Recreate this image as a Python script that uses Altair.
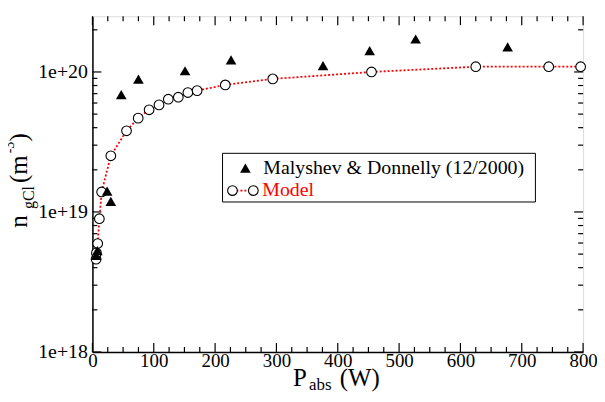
import altair as alt
import pandas as pd

# ---------------- data ----------------
exp_power = [6, 8, 24, 30, 47, 75, 151, 226, 376, 452, 527, 677]
exp_density = [4.9e18, 5.3e18, 1.41e19, 1.19e19, 6.9e19, 8.9e19,
               1.02e20, 1.22e20, 1.11e20, 1.42e20, 1.72e20, 1.51e20]

model_power = [6, 6.5, 8.6, 11.3, 15, 30, 55.6, 74.6, 92.4, 108.6, 123.7,
               140, 155.6, 170.7, 216.6, 294, 455, 625, 744, 796]
model_density = [4.6e18, 5.1e18, 5.95e18, 8.95e18, 1.39e19, 2.52e19, 3.8e19,
                 4.68e19, 5.37e19, 5.82e19, 6.39e19, 6.6e19, 7.13e19, 7.36e19,
                 8.08e19, 8.92e19, 1.0e20, 1.09e20, 1.09e20, 1.09e20]

x_major = [0, 100, 200, 300, 400, 500, 600, 700, 800]
x_minor = [v for v in range(25, 800, 25) if v % 100 != 0]
y_major = [1e18, 1e19, 1e20]
y_minor = [m * 10 ** e for e in (18, 19) for m in range(2, 10)] + [2e20]

exp_label = "Malyshev & Donnelly (12/2000)"
model_label = "Model"

W, H = 494, 338
FONT = "'Liberation Serif', 'Times New Roman', 'DejaVu Serif', serif"

df_exp = pd.DataFrame({"P": exp_power, "n": exp_density})
df_model = pd.DataFrame({"P": model_power, "n": model_density})
df_xmaj = pd.DataFrame({"P": x_major})
df_xmin = pd.DataFrame({"P": x_minor})
df_ymaj = pd.DataFrame({"n": y_major})
df_ymin = pd.DataFrame({"n": y_minor})
one = pd.DataFrame({"k": [0]})

x_scale = alt.Scale(domain=[0, 800], nice=False, zero=False)
y_scale = alt.Scale(type="log", domain=[1e18, 2.5e20], nice=False)

x_axis = alt.Axis(values=x_major, title=None, grid=False, ticks=False, tickSize=0,
                  labelFont=FONT, labelFontSize=19, labelColor="black",
                  labelPadding=0, labelFlush=False, domainColor="black",
                  domainWidth=1.5, format="d")
y_axis = alt.Axis(values=y_major, title=None, grid=False, ticks=False, tickSize=0,
                  labelFont=FONT, labelFontSize=20, labelColor="black",
                  labelPadding=5, domainColor="black", domainWidth=1.5,
                  labelExpr="'1e+' + format(log(datum.value) / LN10, '.0f')")

X = alt.X("P:Q", scale=x_scale, axis=x_axis)
Y = alt.Y("n:Q", scale=y_scale, axis=y_axis)

# ---------------- data layers ----------------
model_line = alt.Chart(df_model).mark_line(
    color="red", strokeDash=[2, 2], strokeWidth=1.8
).encode(x=X, y=Y)

model_pts = alt.Chart(df_model).mark_point(
    shape="circle", filled=True, fill="white", stroke="black",
    strokeWidth=1.1, size=95, opacity=1
).encode(x=X, y=Y)

exp_pts = alt.Chart(df_exp).mark_point(
    shape="triangle-up", filled=True, color="black", size=115, opacity=1
).encode(x=X, y=Y)

# ---------------- inward ticks on all four sides ----------------
def xticks(df, length):
    bot = alt.Chart(df).mark_rule(color="black", strokeWidth=1.2).encode(
        x=X, y=alt.value(H), y2=alt.value(H - length))
    top = alt.Chart(df).mark_rule(color="black", strokeWidth=1.2).encode(
        x=X, y=alt.value(0), y2=alt.value(length))
    return [bot, top]

def yticks(df, length):
    left = alt.Chart(df).mark_rule(color="black", strokeWidth=1.2).encode(
        y=Y, x=alt.value(0), x2=alt.value(length))
    right = alt.Chart(df).mark_rule(color="black", strokeWidth=1.2).encode(
        y=Y, x=alt.value(W), x2=alt.value(W - length))
    return [left, right]

ticks = xticks(df_xmaj, 9) + xticks(df_xmin, 5) + yticks(df_ymaj, 9) + yticks(df_ymin, 5)

# ---------------- axis titles (with sub/superscripts) ----------------
def txt(s, x, y, size, color="black", angle=0, baseline="alphabetic"):
    return alt.Chart(one).mark_text(
        font=FONT, fontSize=size, color=color, align="left",
        baseline=baseline, angle=angle
    ).encode(x=alt.value(x), y=alt.value(y), text=alt.value(s))

xtitle = [
    txt("P", 202, 372, 25),
    txt("abs", 218, 376, 17),
    txt("(W)", 249, 372, 25),
]
ytitle = [
    txt("n", -66, 213, 25, angle=270),
    txt("gCl", -59, 194, 16, angle=270),
    txt("(m", -66, 168, 25, angle=270),
    txt("-3", -79, 138, 14, angle=270),
    txt(")", -66, 126, 25, angle=270),
]

# ---------------- legend box ----------------
leg_box = alt.Chart(one).mark_rect(fill="white", stroke="black", strokeWidth=1).encode(
    x=alt.value(131), x2=alt.value(446), y=alt.value(138), y2=alt.value(187))
leg_tri = alt.Chart(one).mark_point(
    shape="triangle-up", filled=True, color="black", size=115, opacity=1
).encode(x=alt.value(154), y=alt.value(153))
leg_line = alt.Chart(one).mark_rule(color="red", strokeDash=[2, 2], strokeWidth=1.8).encode(
    x=alt.value(141), x2=alt.value(162), y=alt.value(175.5))
leg_c1 = alt.Chart(one).mark_point(
    shape="circle", filled=True, fill="white", stroke="black",
    strokeWidth=1.1, size=95, opacity=1
).encode(x=alt.value(141), y=alt.value(175.5))
leg_c2 = alt.Chart(one).mark_point(
    shape="circle", filled=True, fill="white", stroke="black",
    strokeWidth=1.1, size=95, opacity=1
).encode(x=alt.value(162), y=alt.value(175.5))
leg_t1 = txt(exp_label, 172, 153, 20, baseline="middle")
leg_t2 = txt(model_label, 171, 175, 20, color="red", baseline="middle")

chart = alt.layer(
    *ticks, model_line, model_pts, exp_pts,
    *xtitle, *ytitle,
    leg_box, leg_line, leg_c1, leg_c2, leg_tri, leg_t1, leg_t2,
).properties(
    width=W, height=H,
    autosize=alt.AutoSizeParams(type="none"),
    padding={"left": 85, "top": 7, "right": 14, "bottom": 40},
).configure_view(stroke="black", strokeWidth=1.5
).configure(background="white")

chart.save("out.html", embed_options={"renderer": "svg", "actions": False})
